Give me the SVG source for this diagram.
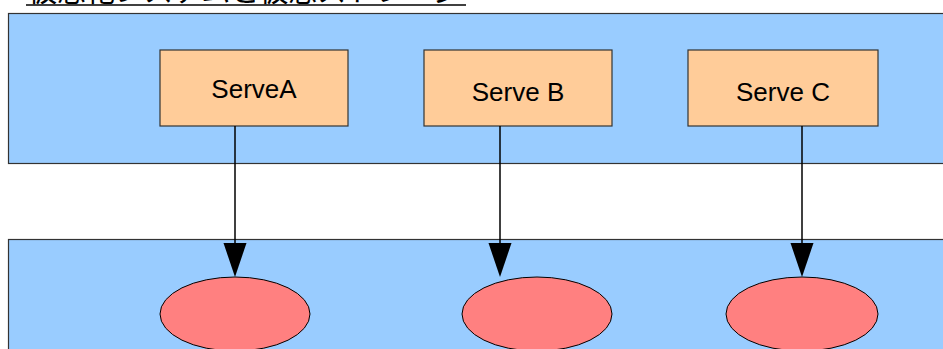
<svg xmlns="http://www.w3.org/2000/svg" width="943" height="349" viewBox="0 0 943 349">
<style>
.band{fill:#99ccff;stroke:#333;stroke-width:1.2}
.srv{fill:#ffcc99;stroke:#333;stroke-width:1.2}
.lbl{font-family:"Liberation Sans",Arial,sans-serif;font-size:26px;fill:#000;text-anchor:middle}
.disk{fill:#ff8080;stroke:#000;stroke-width:1}
.conn{stroke:#000;stroke-width:1.5;fill:none}
.head{fill:#000}
</style>
<rect width="943" height="349" fill="#fff"/>
<g id="title">
<text x="28" y="2" font-family="'Noto Sans CJK JP',sans-serif" font-size="29">仮想化システムと仮想ストレージ</text>
<line x1="26" y1="5" x2="466" y2="5" stroke="#000" stroke-width="1.5"/>
</g>
<g id="top-band"><rect class="band" x="8.5" y="13.5" width="940" height="150"/></g>
<g id="bottom-band"><rect class="band" x="8.5" y="239.5" width="940" height="120"/></g>
<g id="serveA"><rect class="srv" x="160" y="50" width="188" height="76"/><text class="lbl" x="254" y="98">ServeA</text></g>
<g id="serveB"><rect class="srv" x="424" y="50" width="188" height="76"/><text class="lbl" x="518" y="101">Serve B</text></g>
<g id="serveC"><rect class="srv" x="688" y="50" width="190" height="76"/><text class="lbl" x="783" y="101">Serve C</text></g>
<g id="diskA"><ellipse class="disk" cx="235" cy="314" rx="75" ry="37"/></g>
<g id="diskB"><ellipse class="disk" cx="537" cy="314" rx="75" ry="37"/></g>
<g id="diskC"><ellipse class="disk" cx="802" cy="314" rx="76" ry="37"/></g>
<g id="connectors">
<line class="conn" x1="235" y1="126" x2="235" y2="245"/>
<polygon class="head" points="223.5,243 246.5,243 235,277"/>
<line class="conn" x1="500" y1="126" x2="500" y2="245"/>
<polygon class="head" points="488.5,243 511.5,243 500,277"/>
<line class="conn" x1="802" y1="126" x2="802" y2="245"/>
<polygon class="head" points="790.5,243 813.5,243 802,277"/>
</g>
</svg>
